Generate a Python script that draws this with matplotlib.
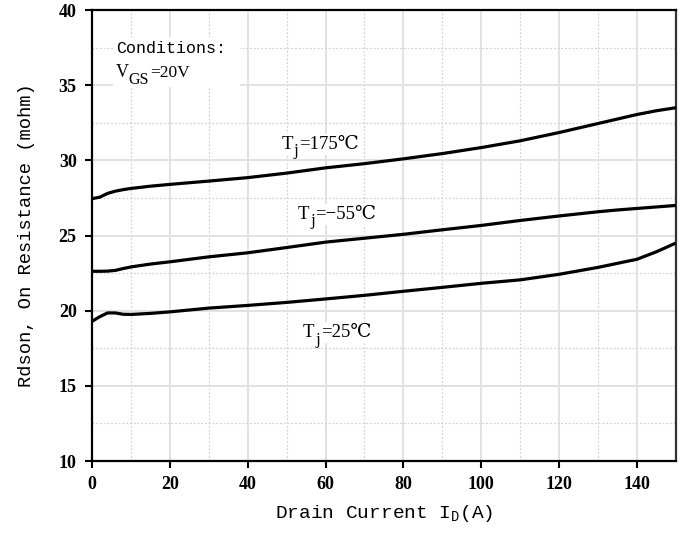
import matplotlib
matplotlib.use("Agg")
import matplotlib.pyplot as plt
from matplotlib.ticker import MultipleLocator
from matplotlib.patches import Rectangle

current = [0, 2, 4, 6, 8, 10, 15, 20, 30, 40, 50, 60, 70, 80, 90, 100, 110, 120, 130, 135, 140, 145, 150]
r_175 = [27.45, 27.55, 27.8, 27.95, 28.05, 28.13, 28.28, 28.4, 28.62, 28.85, 29.15, 29.5, 29.78, 30.1,
         30.45, 30.85, 31.3, 31.85, 32.45, 32.75, 33.05, 33.3, 33.5]
r_m55 = [22.62, 22.62, 22.63, 22.68, 22.8, 22.91, 23.1, 23.25, 23.58, 23.85, 24.2, 24.56, 24.82, 25.08,
         25.38, 25.67, 26.0, 26.3, 26.58, 26.7, 26.8, 26.9, 27.0]
r_25 = [19.29, 19.6, 19.85, 19.85, 19.76, 19.75, 19.82, 19.92, 20.17, 20.35, 20.55, 20.78, 21.02, 21.29,
        21.55, 21.82, 22.05, 22.42, 22.88, 23.15, 23.42, 23.92, 24.5]

xticks = [0, 20, 40, 60, 80, 100, 120, 140]
yticks = [10, 15, 20, 25, 30, 35, 40]

fig = plt.figure(figsize=(6.87, 5.35), dpi=100)
ax = fig.add_axes([0.1339, 0.1383, 0.850, 0.843])

for y in (r_175, r_m55, r_25):
    ax.plot(current, y, color='black', lw=2.3, solid_capstyle='butt', zorder=3)

ax.set_xlim(0, 150)
ax.set_ylim(10, 40)
ax.set_xticks(xticks)
ax.set_yticks(yticks)
ax.xaxis.set_minor_locator(MultipleLocator(10))
ax.yaxis.set_minor_locator(MultipleLocator(2.5))
ax.grid(which='major', color='#e2e2e2', lw=1.4, ls='-', zorder=0)
ax.grid(which='minor', color='#d2d2d2', lw=0.9, ls=(0, (1.5, 1.5)), zorder=0)
ax.set_axisbelow(True)
ax.tick_params(which='minor', length=0)
ax.tick_params(which='major', direction='out', length=5, width=1.5, colors='black', pad=6)
for lab in ax.get_xticklabels() + ax.get_yticklabels():
    lab.set_fontfamily('Liberation Serif')
    lab.set_fontweight('bold')
    lab.set_fontsize(13)
for sp in ax.spines.values():
    sp.set_linewidth(1.6)
    sp.set_color('black')
ax.spines['right'].set_color('#333333')

plt.rcParams['mathtext.default'] = 'regular'
ax.set_xlabel('Drain Current I$_D$(A)', fontfamily='Liberation Mono', fontsize=14, labelpad=7)
ax.set_ylabel('Rdson, On Resistance (mohm)', fontfamily='Liberation Mono', fontsize=13.5, labelpad=17)

fam = ['Liberation Serif', 'DejaVu Serif']
bbox = dict(facecolor='white', edgecolor='none', pad=1.5)

# white area behind the conditions note
ax.add_patch(Rectangle((5.4, 34.87), 32.6, 3.33, facecolor='white', edgecolor='none', zorder=2))
ax.text(6.16, 37.11, 'Conditions:', fontfamily='Liberation Mono', fontsize=12, ha='left',
        va='baseline', zorder=4)

def piece(x, y, s, dx, dy, size, box=True):
    ax.annotate(s, (x, y), xycoords='data', xytext=(dx, dy), textcoords='offset points',
                ha='left', va='baseline', fontfamily=fam, fontsize=size,
                bbox=bbox if box else None, zorder=4)

# V_GS = 20V
piece(6.16, 35.55, '=20V', 24.8, 0, 12.5)
piece(6.16, 35.55, 'V', 0, 0, 13)
piece(6.16, 35.55, 'GS', 8.8, -4.8, 11.5, box=False)

def tj_label(x, y, rest):
    piece(x, y, rest, 12.8, 0, 13.5)
    piece(x, y, 'T', 0, 0, 13.5)
    piece(x, y, 'j', 9.0, -4.5, 12, box=False)

tj_label(48.6, 30.78, '=175℃')
tj_label(52.8, 26.11, '=−55℃')
tj_label(54.2, 18.22, '=25℃')

fig.savefig('out.png', dpi=100)
